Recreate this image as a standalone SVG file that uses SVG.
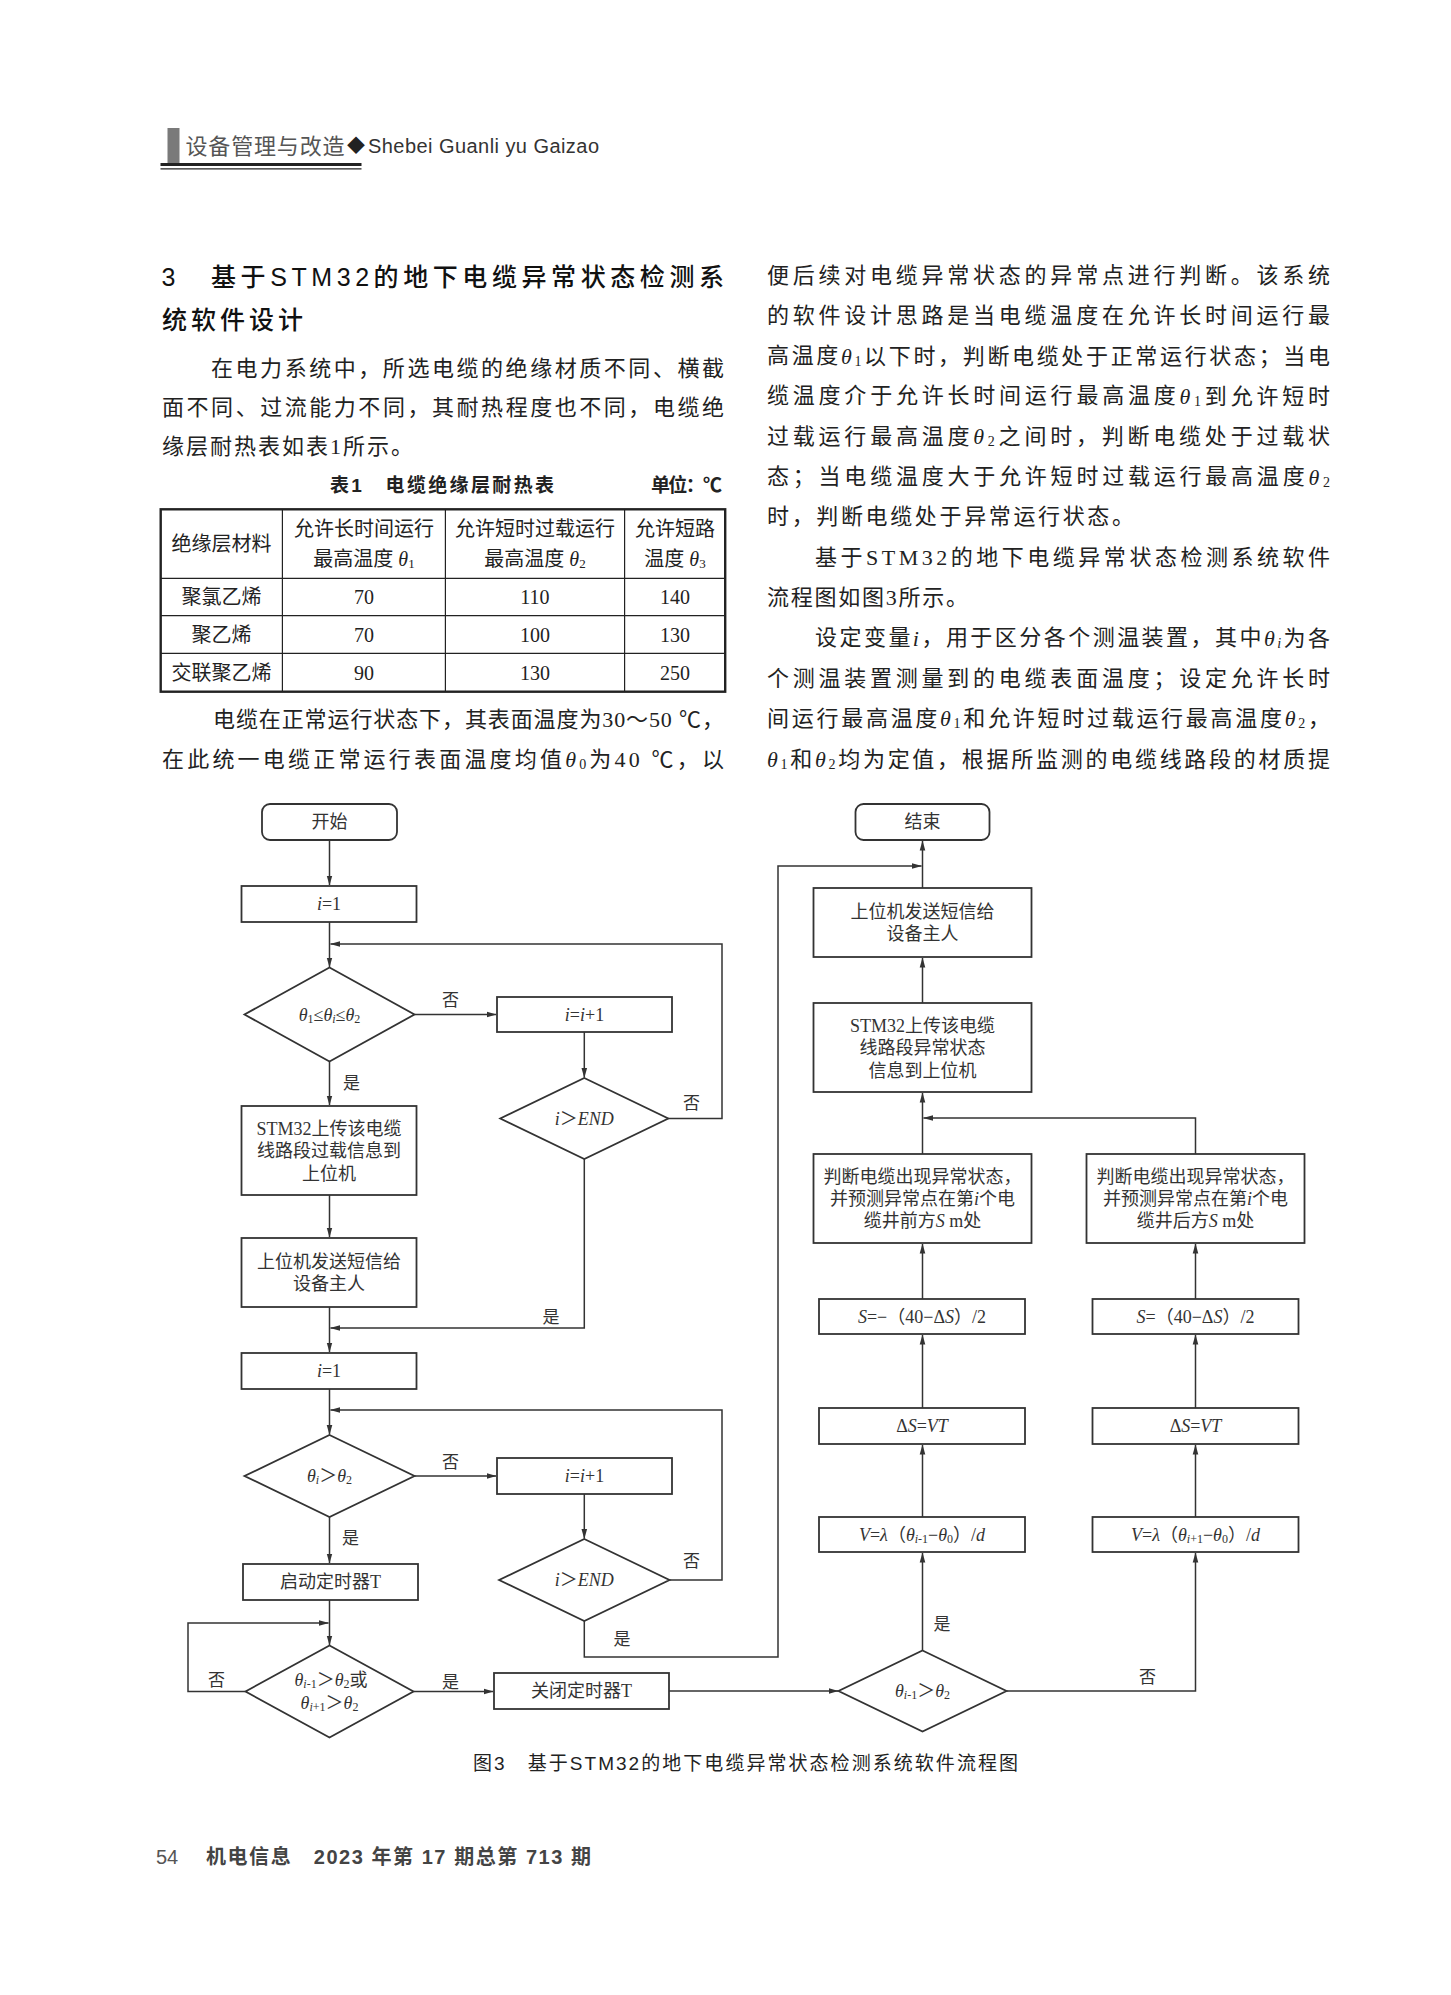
<svg xmlns="http://www.w3.org/2000/svg" width="1451" height="1995" viewBox="0 0 1451 1995">
<style>
.sr{font-family:"Liberation Serif","Noto Sans CJK SC",serif;fill:#222}
.ss{font-family:"Liberation Sans","Noto Sans CJK SC",sans-serif;fill:#222}
.bd{font-size:22px;dominant-baseline:central}
.it{font-style:italic}
.fc{font-family:"Liberation Serif","Noto Sans CJK SC",serif;fill:#333;font-size:18px;dominant-baseline:central;text-anchor:middle}
.lb{font-family:"Liberation Serif","Noto Sans CJK SC",serif;fill:#333;font-size:17px;dominant-baseline:central;text-anchor:middle}
.nd{fill:#fff;stroke:#333;stroke-width:1.8}
.cn{fill:none;stroke:#333;stroke-width:1.5}
.tc{font-family:"Liberation Serif","Noto Sans CJK SC",serif;fill:#222;font-size:20px;dominant-baseline:central;text-anchor:middle}
</style>
<defs>
<marker id="ah" markerWidth="10" markerHeight="8" refX="9.5" refY="4" orient="auto" markerUnits="userSpaceOnUse">
<path d="M0,1.2 L10,4 L0,6.8 z" fill="#333"/>
</marker>
</defs>
<rect width="1451" height="1995" fill="#fff"/>

<!-- page header -->
<g id="page-header">
<rect x="167.5" y="128" width="12" height="35" fill="#7a7a7a"/>
<text class="ss" x="185.5" y="146" font-size="22" fill="#555" style="fill:#555;dominant-baseline:central" textLength="159">设备管理与改造</text>
<text class="ss" x="347" y="146" font-size="18" style="dominant-baseline:central">◆</text>
<text class="ss" x="368" y="146" font-size="20" style="fill:#333;dominant-baseline:central" textLength="231">Shebei Guanli yu Gaizao</text>
<line x1="160.5" y1="164.5" x2="361.5" y2="164.5" stroke="#222" stroke-width="3"/>
<line x1="160.5" y1="168.8" x2="361.5" y2="168.8" stroke="#222" stroke-width="1.2"/>
</g>

<!-- left column text -->
<g id="left-text">
<text class="ss" x="161.5" y="276.5" font-size="25" font-weight="500" style="fill:#111;dominant-baseline:central">3</text>
<text class="ss" x="211" y="276.5" font-size="25" font-weight="500" style="fill:#111;dominant-baseline:central" textLength="513">基于STM32的地下电缆异常状态检测系</text>
<text class="ss" x="162" y="320" font-size="25" font-weight="500" style="fill:#111;dominant-baseline:central" textLength="141">统软件设计</text>
<text class="sr bd" x="211" y="368" textLength="513">在电力系统中，所选电缆的绝缘材质不同、横截</text>
<text class="sr bd" x="162" y="407.5" textLength="562">面不同、过流能力不同，其耐热程度也不同，电缆绝</text>
<text class="sr bd" x="162" y="446.5" textLength="251">缘层耐热表如表1所示。</text>
<text class="sr bd" x="213" y="719" textLength="511">电缆在正常运行状态下，其表面温度为30～50 ℃，</text>
<text class="sr bd" x="162" y="759" textLength="562">在此统一电缆正常运行表面温度均值<tspan class="it">θ</tspan><tspan font-size="14" dy="5">0</tspan><tspan dy="-5">为40 ℃，以</tspan></text>
</g>

<!-- table -->
<g id="table1">
<text class="ss" x="330" y="485" font-size="19" font-weight="bold" style="dominant-baseline:central" textLength="224">表1　电缆绝缘层耐热表</text>
<text class="ss" x="651" y="485" font-size="19" font-weight="bold" style="dominant-baseline:central" textLength="71">单位：℃</text>
<rect x="160.7" y="509.3" width="564.5" height="182.4" fill="none" stroke="#222" stroke-width="2.4"/>
<g stroke="#222" stroke-width="1.2">
<line x1="160.7" y1="578.3" x2="725.2" y2="578.3"/>
<line x1="160.7" y1="615.7" x2="725.2" y2="615.7"/>
<line x1="160.7" y1="653.3" x2="725.2" y2="653.3"/>
<line x1="282.4" y1="509.3" x2="282.4" y2="691.7"/>
<line x1="445.4" y1="509.3" x2="445.4" y2="691.7"/>
<line x1="624.6" y1="509.3" x2="624.6" y2="691.7"/>
</g>
<text class="tc" x="221.5" y="543.5">绝缘层材料</text>
<text class="tc" x="364" y="528.5">允许长时间运行</text>
<text class="tc" x="364" y="558.5">最高温度 <tspan class="it">θ</tspan><tspan font-size="13" dy="4">1</tspan></text>
<text class="tc" x="535" y="528.5">允许短时过载运行</text>
<text class="tc" x="535" y="558.5">最高温度 <tspan class="it">θ</tspan><tspan font-size="13" dy="4">2</tspan></text>
<text class="tc" x="675" y="528.5">允许短路</text>
<text class="tc" x="675" y="558.5">温度 <tspan class="it">θ</tspan><tspan font-size="13" dy="4">3</tspan></text>
<text class="tc" x="221.5" y="597">聚氯乙烯</text>
<text class="tc" x="364" y="597">70</text>
<text class="tc" x="535" y="597">110</text>
<text class="tc" x="675" y="597">140</text>
<text class="tc" x="221.5" y="635">聚乙烯</text>
<text class="tc" x="364" y="635">70</text>
<text class="tc" x="535" y="635">100</text>
<text class="tc" x="675" y="635">130</text>
<text class="tc" x="221.5" y="672.5">交联聚乙烯</text>
<text class="tc" x="364" y="672.5">90</text>
<text class="tc" x="535" y="672.5">130</text>
<text class="tc" x="675" y="672.5">250</text>
</g>

<!-- right column text -->
<g id="right-text">
<text class="sr bd" x="767" y="275" textLength="563">便后续对电缆异常状态的异常点进行判断。该系统</text>
<text class="sr bd" x="767" y="315.3" textLength="563">的软件设计思路是当电缆温度在允许长时间运行最</text>
<text class="sr bd" x="767" y="355.6" textLength="563">高温度<tspan class="it">θ</tspan><tspan font-size="14" dy="5">1</tspan><tspan dy="-5">以下时，判断电缆处于正常运行状态；当电</tspan></text>
<text class="sr bd" x="767" y="395.9" textLength="563">缆温度介于允许长时间运行最高温度<tspan class="it">θ</tspan><tspan font-size="14" dy="5">1</tspan><tspan dy="-5">到允许短时</tspan></text>
<text class="sr bd" x="767" y="436.2" textLength="563">过载运行最高温度<tspan class="it">θ</tspan><tspan font-size="14" dy="5">2</tspan><tspan dy="-5">之间时，判断电缆处于过载状</tspan></text>
<text class="sr bd" x="767" y="476.5" textLength="563">态；当电缆温度大于允许短时过载运行最高温度<tspan class="it">θ</tspan><tspan font-size="14" dy="5">2</tspan></text>
<text class="sr bd" x="767" y="516.8" textLength="367">时，判断电缆处于异常运行状态。</text>
<text class="sr bd" x="815" y="557.1" textLength="515">基于STM32的地下电缆异常状态检测系统软件</text>
<text class="sr bd" x="767" y="597.4" textLength="201">流程图如图3所示。</text>
<text class="sr bd" x="815" y="637.7" textLength="515">设定变量<tspan class="it">i</tspan>，用于区分各个测温装置，其中<tspan class="it">θ</tspan><tspan font-size="14" dy="5" class="it">i</tspan><tspan dy="-5">为各</tspan></text>
<text class="sr bd" x="767" y="678" textLength="563">个测温装置测量到的电缆表面温度；设定允许长时</text>
<text class="sr bd" x="767" y="718.3" textLength="563">间运行最高温度<tspan class="it">θ</tspan><tspan font-size="14" dy="5">1</tspan><tspan dy="-5">和允许短时过载运行最高温度</tspan><tspan class="it">θ</tspan><tspan font-size="14" dy="5">2</tspan><tspan dy="-5">，</tspan></text>
<text class="sr bd" x="767" y="758.6" textLength="563"><tspan class="it">θ</tspan><tspan font-size="14" dy="5">1</tspan><tspan dy="-5">和</tspan><tspan class="it">θ</tspan><tspan font-size="14" dy="5">2</tspan><tspan dy="-5">均为定值，根据所监测的电缆线路段的材质提</tspan></text>
</g>

<!-- connectors -->
<g id="connectors">
<path class="cn" d="M329.5,840 V885" marker-end="url(#ah)"/>
<path class="cn" d="M329.5,922 V967" marker-end="url(#ah)"/>
<path class="cn" d="M668.3,1118.5 H722 V944 H330.5" marker-end="url(#ah)"/>
<path class="cn" d="M414.5,1014.5 H496" marker-end="url(#ah)"/>
<path class="cn" d="M584.3,1032 V1077.5" marker-end="url(#ah)"/>
<path class="cn" d="M329.5,1061.5 V1105" marker-end="url(#ah)"/>
<path class="cn" d="M329.5,1195 V1237" marker-end="url(#ah)"/>
<path class="cn" d="M584.3,1159 V1328 H330.5" marker-end="url(#ah)"/>
<path class="cn" d="M329.5,1307 V1352" marker-end="url(#ah)"/>
<path class="cn" d="M329.5,1389 V1434.5" marker-end="url(#ah)"/>
<path class="cn" d="M669.5,1580 H722 V1410 H330.5" marker-end="url(#ah)"/>
<path class="cn" d="M414.5,1476 H496" marker-end="url(#ah)"/>
<path class="cn" d="M584.3,1494 V1538.5" marker-end="url(#ah)"/>
<path class="cn" d="M329.5,1517 V1563" marker-end="url(#ah)"/>
<path class="cn" d="M329.5,1600 V1645" marker-end="url(#ah)"/>
<path class="cn" d="M245.5,1691.5 H188 V1623 H328.5" marker-end="url(#ah)"/>
<path class="cn" d="M413.5,1691.5 H493" marker-end="url(#ah)"/>
<path class="cn" d="M669,1691 H838" marker-end="url(#ah)"/>
<path class="cn" d="M584.3,1621 V1657 H778 V866 H921.5" marker-end="url(#ah)"/>
<path class="cn" d="M922.5,1650.5 V1553" marker-end="url(#ah)"/>
<path class="cn" d="M922.5,1517 V1445" marker-end="url(#ah)"/>
<path class="cn" d="M922.5,1408 V1335" marker-end="url(#ah)"/>
<path class="cn" d="M922.5,1299 V1244" marker-end="url(#ah)"/>
<path class="cn" d="M922.5,1154 V1093" marker-end="url(#ah)"/>
<path class="cn" d="M1006.5,1691 H1195.5 V1553" marker-end="url(#ah)"/>
<path class="cn" d="M1195.5,1517 V1445" marker-end="url(#ah)"/>
<path class="cn" d="M1195.5,1408 V1335" marker-end="url(#ah)"/>
<path class="cn" d="M1195.5,1299 V1244" marker-end="url(#ah)"/>
<path class="cn" d="M1195.5,1154 V1118 H923.5" marker-end="url(#ah)"/>
<path class="cn" d="M922.5,1003 V958" marker-end="url(#ah)"/>
<path class="cn" d="M922.5,888 V841" marker-end="url(#ah)"/>
<text class="lb" x="450.5" y="1000">否</text>
<text class="lb" x="691.5" y="1103">否</text>
<text class="lb" x="351.5" y="1083">是</text>
<text class="lb" x="551" y="1317">是</text>
<text class="lb" x="450.5" y="1462">否</text>
<text class="lb" x="691.5" y="1561">否</text>
<text class="lb" x="350.5" y="1538">是</text>
<text class="lb" x="622" y="1639">是</text>
<text class="lb" x="216.5" y="1680">否</text>
<text class="lb" x="450.5" y="1682">是</text>
<text class="lb" x="942" y="1624">是</text>
<text class="lb" x="1147.5" y="1677">否</text>
</g>

<!-- nodes -->
<g id="n-start"><rect class="nd" x="262" y="804" width="135" height="36" rx="8"/><text class="fc" x="329.5" y="822">开始</text></g>
<g id="n-i1a"><rect class="nd" x="241.5" y="886" width="175" height="36"/><text class="fc" x="329" y="904"><tspan class="it">i</tspan>=1</text></g>
<g id="n-d1"><path class="nd" d="M329.5,967.5 L414.5,1014.5 L329.5,1061.5 L244.5,1014.5 Z"/><text class="fc" x="329.5" y="1014.5"><tspan class="it">θ</tspan><tspan font-size="12" dy="4">1</tspan><tspan dy="-4">≤</tspan><tspan class="it">θ</tspan><tspan font-size="12" dy="4" class="it">i</tspan><tspan dy="-4">≤</tspan><tspan class="it">θ</tspan><tspan font-size="12" dy="4">2</tspan></text></g>
<g id="n-inc1"><rect class="nd" x="497" y="997" width="175" height="35"/><text class="fc" x="584.5" y="1014.5"><tspan class="it">i</tspan>=<tspan class="it">i</tspan>+1</text></g>
<g id="n-d2"><path class="nd" d="M584.3,1078 L668.3,1118.5 L584.3,1159 L500.3,1118.5 Z"/><text class="fc" x="584.3" y="1118.5"><tspan class="it">i</tspan>＞<tspan class="it">END</tspan></text></g>
<g id="n-up1"><rect class="nd" x="241.5" y="1106" width="175" height="89"/><text class="fc" x="329" y="1128.5">STM32上传该电缆</text><text class="fc" x="329" y="1151">线路段过载信息到</text><text class="fc" x="329" y="1173.5">上位机</text></g>
<g id="n-sms1"><rect class="nd" x="241.5" y="1238" width="175" height="69"/><text class="fc" x="329" y="1261.5">上位机发送短信给</text><text class="fc" x="329" y="1284">设备主人</text></g>
<g id="n-i1b"><rect class="nd" x="241.5" y="1353" width="175" height="36"/><text class="fc" x="329" y="1371"><tspan class="it">i</tspan>=1</text></g>
<g id="n-d3"><path class="nd" d="M329.5,1435 L414.5,1476 L329.5,1517 L244.5,1476 Z"/><text class="fc" x="329.5" y="1476"><tspan class="it">θ</tspan><tspan font-size="12" dy="4" class="it">i</tspan><tspan dy="-4">＞</tspan><tspan class="it">θ</tspan><tspan font-size="12" dy="4">2</tspan></text></g>
<g id="n-inc2"><rect class="nd" x="497" y="1458" width="175" height="36"/><text class="fc" x="584.5" y="1476"><tspan class="it">i</tspan>=<tspan class="it">i</tspan>+1</text></g>
<g id="n-d4"><path class="nd" d="M584.3,1539 L669.5,1580 L584.3,1621 L499.1,1580 Z"/><text class="fc" x="584.3" y="1580"><tspan class="it">i</tspan>＞<tspan class="it">END</tspan></text></g>
<g id="n-timeron"><rect class="nd" x="243" y="1564" width="175" height="36"/><text class="fc" x="330.5" y="1582">启动定时器T</text></g>
<g id="n-d5"><path class="nd" d="M329.5,1645.5 L413.5,1691.5 L329.5,1737.5 L245.5,1691.5 Z"/><text class="fc" x="331" y="1680"><tspan class="it">θ</tspan><tspan font-size="12" dy="4" class="it">i</tspan><tspan font-size="12">-1</tspan><tspan dy="-4">＞</tspan><tspan class="it">θ</tspan><tspan font-size="12" dy="4">2</tspan><tspan dy="-4">或</tspan></text><text class="fc" x="329.5" y="1703"><tspan class="it">θ</tspan><tspan font-size="12" dy="4" class="it">i</tspan><tspan font-size="12">+1</tspan><tspan dy="-4">＞</tspan><tspan class="it">θ</tspan><tspan font-size="12" dy="4">2</tspan></text></g>
<g id="n-timeroff"><rect class="nd" x="494" y="1673" width="175" height="36"/><text class="fc" x="581.5" y="1691">关闭定时器T</text></g>
<g id="n-d6"><path class="nd" d="M922.5,1650.5 L1006.5,1691 L922.5,1731.5 L838.5,1691 Z"/><text class="fc" x="922.5" y="1691"><tspan class="it">θ</tspan><tspan font-size="12" dy="4" class="it">i</tspan><tspan font-size="12">-1</tspan><tspan dy="-4">＞</tspan><tspan class="it">θ</tspan><tspan font-size="12" dy="4">2</tspan></text></g>
<g id="n-vL"><rect class="nd" x="819" y="1517" width="206" height="35"/><text class="fc" x="922" y="1534.5"><tspan class="it">V</tspan>=<tspan class="it">λ</tspan>（<tspan class="it">θ</tspan><tspan font-size="12" dy="4" class="it">i</tspan><tspan font-size="12">-1</tspan><tspan dy="-4">−</tspan><tspan class="it">θ</tspan><tspan font-size="12" dy="4">0</tspan><tspan dy="-4">）/</tspan><tspan class="it">d</tspan></text></g>
<g id="n-dsL"><rect class="nd" x="819" y="1408" width="206" height="36"/><text class="fc" x="922" y="1426">Δ<tspan class="it">S</tspan>=<tspan class="it">VT</tspan></text></g>
<g id="n-sL"><rect class="nd" x="819" y="1299" width="206" height="35"/><text class="fc" x="922" y="1316.5"><tspan class="it">S</tspan>=−（40−Δ<tspan class="it">S</tspan>）/2</text></g>
<g id="n-judgeL"><rect class="nd" x="813.5" y="1154" width="218" height="89"/><text class="fc" x="922.5" y="1176.5" font-size="17.5">判断电缆出现异常状态，</text><text class="fc" x="922.5" y="1198.5" font-size="17.5">并预测异常点在第<tspan class="it">i</tspan>个电</text><text class="fc" x="922.5" y="1221" font-size="17.5">缆井前方<tspan class="it">S</tspan> m处</text></g>
<g id="n-vR"><rect class="nd" x="1092.5" y="1517" width="206" height="35"/><text class="fc" x="1195.5" y="1534.5"><tspan class="it">V</tspan>=<tspan class="it">λ</tspan>（<tspan class="it">θ</tspan><tspan font-size="12" dy="4" class="it">i</tspan><tspan font-size="12">+1</tspan><tspan dy="-4">−</tspan><tspan class="it">θ</tspan><tspan font-size="12" dy="4">0</tspan><tspan dy="-4">）/</tspan><tspan class="it">d</tspan></text></g>
<g id="n-dsR"><rect class="nd" x="1092.5" y="1408" width="206" height="36"/><text class="fc" x="1195.5" y="1426">Δ<tspan class="it">S</tspan>=<tspan class="it">VT</tspan></text></g>
<g id="n-sR"><rect class="nd" x="1092.5" y="1299" width="206" height="35"/><text class="fc" x="1195.5" y="1316.5"><tspan class="it">S</tspan>=（40−Δ<tspan class="it">S</tspan>）/2</text></g>
<g id="n-judgeR"><rect class="nd" x="1086.5" y="1154" width="218" height="89"/><text class="fc" x="1195.5" y="1176.5" font-size="17.5">判断电缆出现异常状态，</text><text class="fc" x="1195.5" y="1198.5" font-size="17.5">并预测异常点在第<tspan class="it">i</tspan>个电</text><text class="fc" x="1195.5" y="1221" font-size="17.5">缆井后方<tspan class="it">S</tspan> m处</text></g>
<g id="n-up2"><rect class="nd" x="813.5" y="1003" width="218" height="89"/><text class="fc" x="922.5" y="1025.5">STM32上传该电缆</text><text class="fc" x="922.5" y="1048">线路段异常状态</text><text class="fc" x="922.5" y="1070.5">信息到上位机</text></g>
<g id="n-sms2"><rect class="nd" x="813.5" y="888" width="218" height="69"/><text class="fc" x="922.5" y="911.5">上位机发送短信给</text><text class="fc" x="922.5" y="934">设备主人</text></g>
<g id="n-end"><rect class="nd" x="855.5" y="804" width="134" height="36" rx="8"/><text class="fc" x="922.5" y="822">结束</text></g>

<!-- caption and footer -->
<g id="caption">
<text class="ss" x="473" y="1763" font-size="19" style="dominant-baseline:central" textLength="545">图3　基于STM32的地下电缆异常状态检测系统软件流程图</text>
</g>
<g id="footer">
<text class="ss" x="156" y="1857" font-size="20" style="fill:#555;dominant-baseline:central">54</text>
<text class="ss" x="206" y="1857" font-size="20" font-weight="bold" style="fill:#444;dominant-baseline:central" textLength="385">机电信息　2023 年第 17 期总第 713 期</text>
</g>
</svg>
